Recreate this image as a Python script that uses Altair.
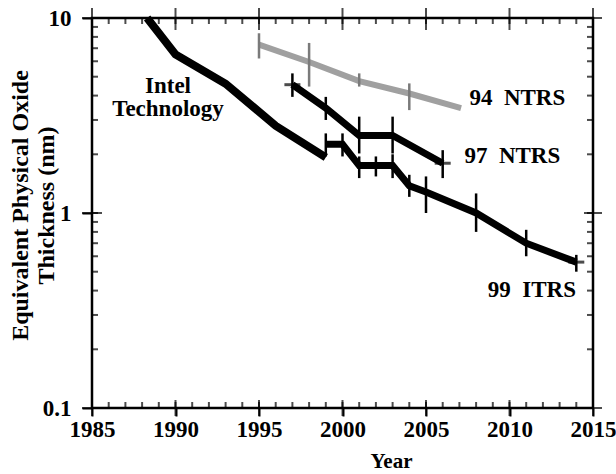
import altair as alt
import pandas as pd

# ---- data ----
intel_year = [1988.3, 1990, 1993, 1996, 1999]
intel_val = [10, 6.5, 4.6, 2.8, 1.93]

ntrs94_year = [1995, 1998, 2001, 2004, 2007.1]
ntrs94_val = [7.3, 5.95, 4.75, 4.1, 3.45]
ntrs94_bar_year = [1995, 1998, 2001, 2004]
ntrs94_bar_lo = [6.2, 4.45, 4.45, 3.37]
ntrs94_bar_hi = [8.35, 7.45, 5.2, 4.62]

ntrs97_year = [1997, 1999, 2001, 2003, 2006]
ntrs97_val = [4.55, 3.45, 2.5, 2.5, 1.8]
ntrs97_bar_lo = [3.94, 3.0, 2.02, 2.02, 1.51]
ntrs97_bar_hi = [5.2, 3.94, 3.12, 3.12, 2.1]

itrs99_year = [1999, 2000, 2001, 2002, 2003, 2004, 2005, 2008, 2011, 2014]
itrs99_val = [2.25, 2.25, 1.75, 1.75, 1.75, 1.38, 1.28, 1.0, 0.70, 0.56]
itrs99_bar_lo = [1.95, 1.95, 1.51, 1.54, 1.51, 1.21, 1.0, 0.80, 0.60, 0.50]
itrs99_bar_hi = [2.56, 2.56, 1.95, 1.95, 2.0, 1.57, 1.54, 1.26, 0.82, 0.61]

stub_year = [1997, 2006, 2014]
stub_val = [4.55, 1.8, 0.56]

intel_label = ["Intel\nTechnology"]
intel_label_year = [1989.55]
intel_label_val = [4.12]

series_label = ["94\u00a0 NTRS", "97\u00a0 NTRS", "99\u00a0 ITRS"]
series_label_year = [2007.6, 2007.3, 2008.7]
series_label_val = [3.58, 1.80, 0.372]

# axis tick values
x_major = [1985, 1990, 1995, 2000, 2005, 2010, 2015]
x_all = list(range(1985, 2016))
y_major = [0.1, 1, 10]
y_all = [0.1, 0.2, 0.3, 0.4, 0.5, 0.6, 0.7, 0.8, 0.9, 1, 2, 3, 4, 5, 6, 7, 8, 9, 10]
x_lo, x_hi = 1985, 2015
y_lo, y_hi = 0.1, 10

W, H = 501, 390
FONT = "Liberation Serif"

intel_df = pd.DataFrame({"year": intel_year, "val": intel_val})
n94_df = pd.DataFrame({"year": ntrs94_year, "val": ntrs94_val})
n94_bar = pd.DataFrame({"year": ntrs94_bar_year, "lo": ntrs94_bar_lo, "hi": ntrs94_bar_hi})
n97_df = pd.DataFrame({"year": ntrs97_year, "val": ntrs97_val})
n97_bar = pd.DataFrame({"year": ntrs97_year, "lo": ntrs97_bar_lo, "hi": ntrs97_bar_hi})
i99_df = pd.DataFrame({"year": itrs99_year, "val": itrs99_val})
i99_bar = pd.DataFrame({"year": itrs99_year, "lo": itrs99_bar_lo, "hi": itrs99_bar_hi})
stub_df = pd.DataFrame({"year": stub_year, "val": stub_val})
intel_lab_df = pd.DataFrame({"text": intel_label, "year": intel_label_year, "val": intel_label_val})
ser_lab_df = pd.DataFrame({"text": series_label, "year": series_label_year, "val": series_label_val})

xs = alt.Scale(domain=[x_lo, x_hi], nice=False, zero=False)
ys = alt.Scale(type="log", domain=[y_lo, y_hi], nice=False)

common = dict(domain=False, grid=False, tickColor="black", tickWidth=2)

AX_X = alt.Axis(orient="bottom", values=x_major, format="d", tickSize=8, labelPadding=20,
                labelBaseline="alphabetic", labelFont=FONT, labelFontSize=23, labelFontWeight="bold",
                labelColor="black", labelFlush=False, labelOverlap=False, labelBound=False,
                title="Year", titleFont=FONT, titleFontSize=21, titleFontWeight="bold",
                titleColor="black", titleX=299, titleY=59, titleBaseline="alphabetic",
                titleAlign="center", **common)
AX_Y = alt.Axis(orient="left", values=y_major, format="~g", tickSize=10, labelPadding=11,
                labelFont=FONT, labelFontSize=23, labelFontWeight="bold", labelColor="black",
                labelBaseline="middle", labelOverlap=False,
                title=["Equivalent Physical Oxide", "Thickness (nm)"], titleFont=FONT,
                titleFontSize=24, titleFontWeight="bold", titleColor="black", titleAngle=270,
                titleX=-65, titleY=187, titleAlign="center", titleBaseline="alphabetic",
                titleLineHeight=26, **common)


def enc(chart, xf="year:Q", yf="val:Q", **extra):
    # every layer carries the same axis definition so that they merge into one shared axis
    return chart.encode(
        x=alt.X(xf, scale=xs, axis=AX_X),
        y=alt.Y(yf, scale=ys, axis=AX_Y),
        **extra,
    )


def line(df, color, width):
    return enc(alt.Chart(df).mark_line(color=color, strokeWidth=width, strokeJoin="miter"))


def bars(df, color):
    return enc(alt.Chart(df).mark_rule(color=color, strokeWidth=2.5), yf="lo:Q", y2="hi:Q")


def texts(df, align):
    return enc(alt.Chart(df).mark_text(font=FONT, fontSize=23, fontWeight="bold", color="black",
                                       baseline="alphabetic", align=align, lineBreak="\n",
                                       lineHeight=23), text="text:N")


# frame ticks (inward minor ticks and crossing major ticks), drawn from the tick value lists
def xticks(values, edge, size, offset):
    df = pd.DataFrame({"year": values, "val": [edge] * len(values)})
    return enc(alt.Chart(df).mark_tick(orient="vertical", color="black", size=size,
                                       thickness=2, yOffset=offset))


def yticks(values, edge, size, offset):
    df = pd.DataFrame({"year": [edge] * len(values), "val": values})
    return enc(alt.Chart(df).mark_tick(orient="horizontal", color="black", size=size,
                                       thickness=2, xOffset=offset))


frame_ticks = [
    xticks(x_all, y_lo, 6, -3),
    xticks(x_all, y_hi, 6, 3),
    xticks(x_major, y_lo, 16, 0),
    xticks(x_major, y_hi, 22, 1),
    yticks(y_all, x_lo, 6, 3),
    yticks(y_all, x_hi, 6, -3),
    yticks(y_major, x_lo, 20, 0),
    yticks(y_major, x_hi, 18, 0),
]

l_intel = line(intel_df, "black", 8)
l_94 = line(n94_df, "#a0a0a0", 6)
l_97 = line(n97_df, "black", 7)
l_99 = line(i99_df, "black", 7)

b_94 = bars(n94_bar, "#7a7a7a")
b_97 = bars(n97_bar, "black")
b_99 = bars(i99_bar, "black")

stubs = enc(alt.Chart(stub_df).mark_tick(orient="horizontal", color="black", size=16, thickness=3))

t_intel = texts(intel_lab_df, "center")
t_series = texts(ser_lab_df, "left")

chart = alt.layer(l_intel, l_94, l_97, l_99, b_94, b_97, b_99, stubs, t_intel, t_series,
                  *frame_ticks).properties(
    width=W, height=H,
    autosize=alt.AutoSizeParams(type="none"),
    padding={"left": 92, "top": 18, "right": 23, "bottom": 66},
    background="white",
).configure_view(stroke="black", strokeWidth=2.5)

chart.save("out.html", embed_options={"renderer": "svg", "actions": False})
